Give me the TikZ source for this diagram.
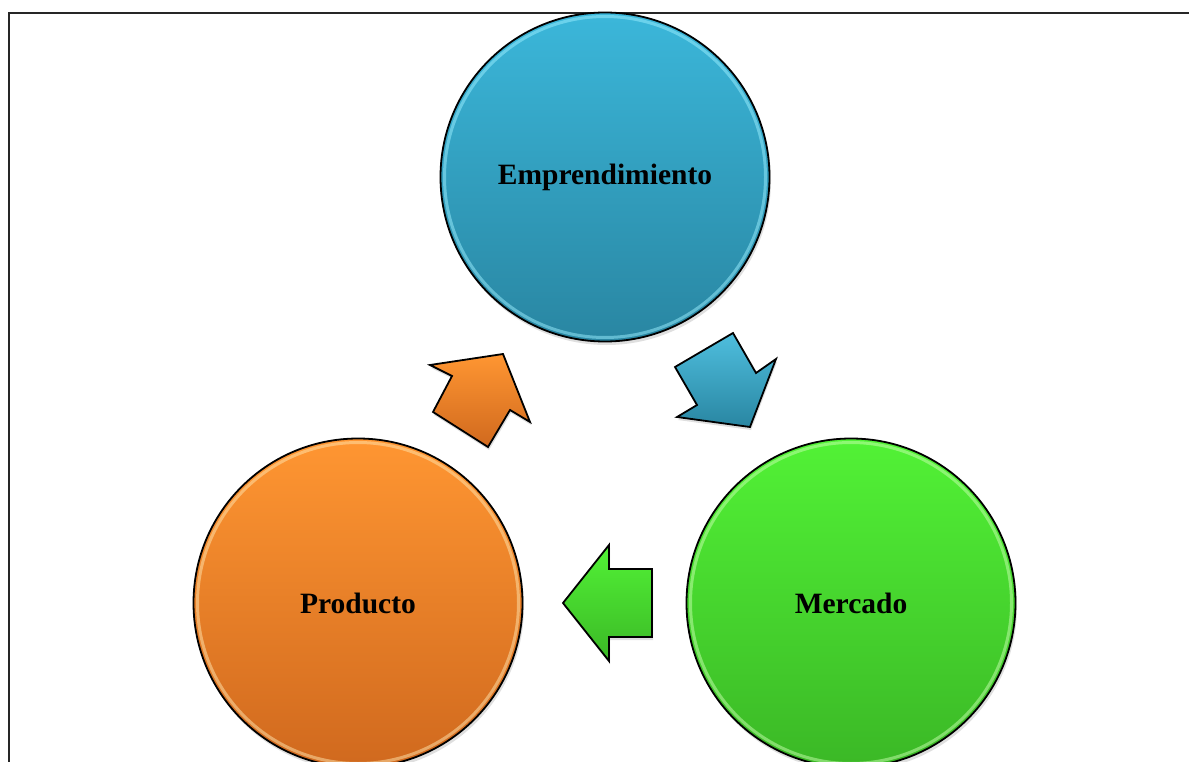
\documentclass[tikz,border=0pt]{standalone}
\usepackage{fontspec}
\setmainfont{Liberation Serif}
\usetikzlibrary{shadows}
\definecolor{bluetop}{HTML}{3BB7DA}
\definecolor{bluebot}{HTML}{2986A2}
\definecolor{bluerim}{HTML}{9BEFFF}
\definecolor{greentop}{HTML}{52F236}
\definecolor{greenbot}{HTML}{3BB826}
\definecolor{greenrim}{HTML}{C8FFB0}
\definecolor{orangetop}{HTML}{FF9632}
\definecolor{orangebot}{HTML}{D0691E}
\definecolor{orangerim}{HTML}{FFE6B0}
\tikzset{
  ball/.style={circle, draw=black, line width=1.8pt, minimum size=329pt, inner sep=0pt,
    font=\fontsize{29.5}{35}\selectfont\bfseries, text=black,
    drop shadow={opacity=0.25, shadow xshift=1.5pt, shadow yshift=-3.5pt}},
  rim/.style={line width=3pt, opacity=0.5},
  blockarrow/.style={draw=black, line width=1.8pt, line join=miter,
    drop shadow={opacity=0.25, shadow xshift=1pt, shadow yshift=-3pt}},
  frameline/.style={line width=1.8pt, black!85}
}
\begin{document}
\begin{tikzpicture}[x=1pt,y=-1pt]
\useasboundingbox (0,0) rectangle (1189,762);
\clip (0,0) rectangle (1189,762);
\fill[white] (0,0) rectangle (1189,762);
\draw[frameline] (9,780) -- (9,13) -- (1200,13);

% circles
\node[ball, top color=bluetop, bottom color=bluebot] (emp) at (605,177) {Emprendimiento};
\node[ball, top color=greentop, bottom color=greenbot] (mer) at (851,603) {Mercado};
\node[ball, top color=orangetop, bottom color=orangebot] (pro) at (358,603) {Producto};

\draw[rim, bluerim] (emp.center) circle[radius=160.5pt];
\draw[rim, greenrim] (mer.center) circle[radius=160.5pt];
\draw[rim, orangerim] (pro.center) circle[radius=160.5pt];

% block arrows
\draw[blockarrow, top color=bluetop!90!white, bottom color=bluebot]
  (675,367) -- (733,333) -- (756,373) -- (776,359) -- (750,427) -- (677,417) -- (697,405) -- cycle;
\draw[blockarrow, top color=greentop, bottom color=greenbot]
  (563,603) -- (609,545) -- (609,569) -- (652,569) -- (652,637) -- (609,637) -- (609,661) -- cycle;
\draw[blockarrow, top color=orangetop, bottom color=orangebot]
  (430,365) -- (452,376) -- (433,412) -- (488,447) -- (510,410) -- (530,422) -- (503,354) -- cycle;
\end{tikzpicture}
\end{document}
